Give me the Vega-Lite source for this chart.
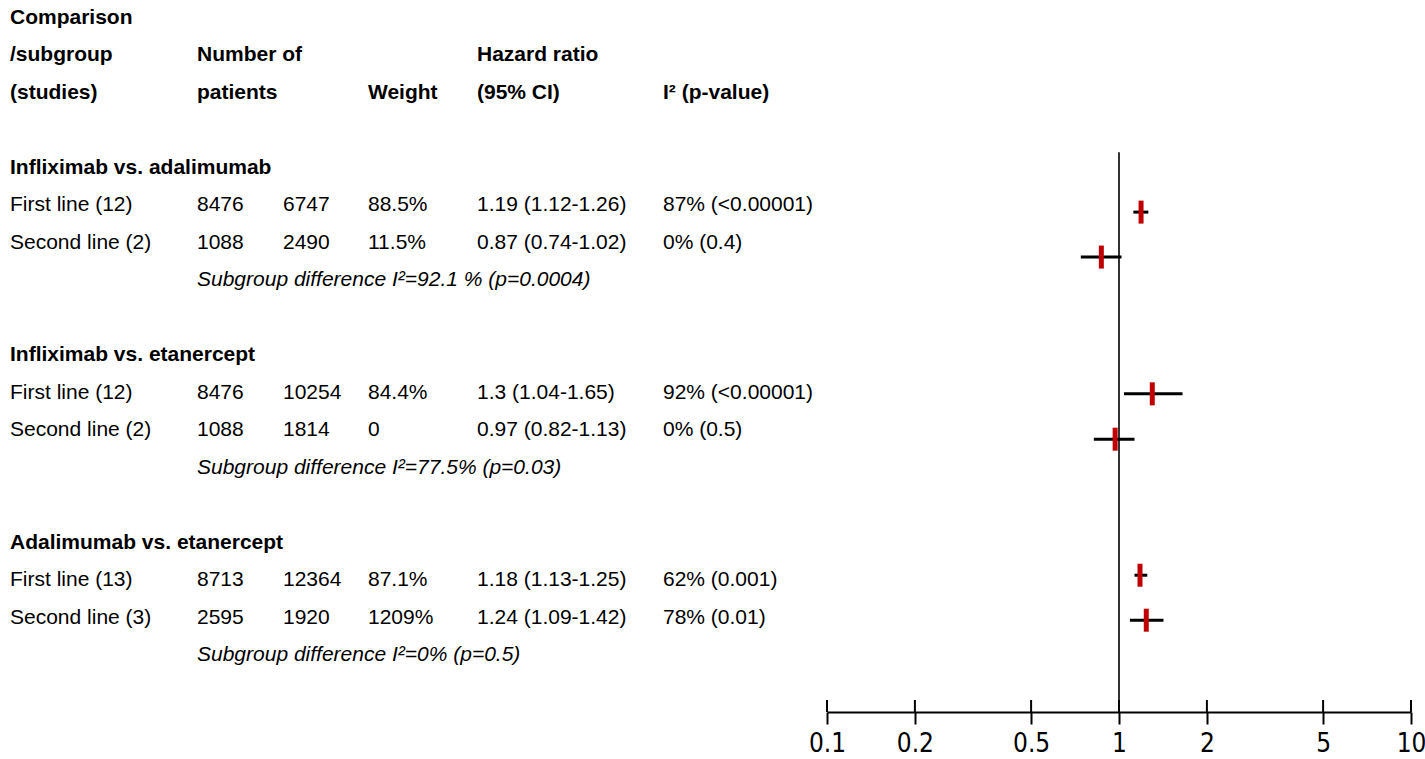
{
  "$schema": "https://vega.github.io/schema/vega-lite/v6.json",
  "width": 1425,
  "height": 712,
  "padding": 0,
  "autosize": {"type": "pad"},
  "background": "white",
  "config": {"view": {"stroke": null}},
  "datasets": {
    "cells": [
      {"row": 0, "col": 0, "kind": "head", "text": "Comparison"},
      {"row": 1, "col": 0, "kind": "head", "text": "/subgroup"},
      {"row": 1, "col": 1, "kind": "head", "text": "Number of"},
      {"row": 1, "col": 4, "kind": "head", "text": "Hazard ratio"},
      {"row": 2, "col": 0, "kind": "head", "text": "(studies)"},
      {"row": 2, "col": 1, "kind": "head", "text": "patients"},
      {"row": 2, "col": 3, "kind": "head", "text": "Weight"},
      {"row": 2, "col": 4, "kind": "head", "text": "(95% CI)"},
      {"row": 2, "col": 5, "kind": "head", "text": "I² (p-value)"},
      {"row": 4, "col": 0, "kind": "head", "text": "Infliximab vs. adalimumab"},
      {"row": 5, "col": 0, "kind": "cell", "text": "First line (12)"},
      {"row": 5, "col": 1, "kind": "cell", "text": "8476"},
      {"row": 5, "col": 2, "kind": "cell", "text": "6747"},
      {"row": 5, "col": 3, "kind": "cell", "text": "88.5%"},
      {"row": 5, "col": 4, "kind": "cell", "text": "1.19 (1.12-1.26)"},
      {"row": 5, "col": 5, "kind": "cell", "text": "87% (<0.00001)"},
      {"row": 6, "col": 0, "kind": "cell", "text": "Second line (2)"},
      {"row": 6, "col": 1, "kind": "cell", "text": "1088"},
      {"row": 6, "col": 2, "kind": "cell", "text": "2490"},
      {"row": 6, "col": 3, "kind": "cell", "text": "11.5%"},
      {"row": 6, "col": 4, "kind": "cell", "text": "0.87 (0.74-1.02)"},
      {"row": 6, "col": 5, "kind": "cell", "text": "0% (0.4)"},
      {"row": 7, "col": 1, "kind": "note", "text": "Subgroup difference I²=92.1 % (p=0.0004)"},
      {"row": 9, "col": 0, "kind": "head", "text": "Infliximab vs. etanercept"},
      {"row": 10, "col": 0, "kind": "cell", "text": "First line (12)"},
      {"row": 10, "col": 1, "kind": "cell", "text": "8476"},
      {"row": 10, "col": 2, "kind": "cell", "text": "10254"},
      {"row": 10, "col": 3, "kind": "cell", "text": "84.4%"},
      {"row": 10, "col": 4, "kind": "cell", "text": "1.3 (1.04-1.65)"},
      {"row": 10, "col": 5, "kind": "cell", "text": "92% (<0.00001)"},
      {"row": 11, "col": 0, "kind": "cell", "text": "Second line (2)"},
      {"row": 11, "col": 1, "kind": "cell", "text": "1088"},
      {"row": 11, "col": 2, "kind": "cell", "text": "1814"},
      {"row": 11, "col": 3, "kind": "cell", "text": "0"},
      {"row": 11, "col": 4, "kind": "cell", "text": "0.97 (0.82-1.13)"},
      {"row": 11, "col": 5, "kind": "cell", "text": "0% (0.5)"},
      {"row": 12, "col": 1, "kind": "note", "text": "Subgroup difference I²=77.5% (p=0.03)"},
      {"row": 14, "col": 0, "kind": "head", "text": "Adalimumab vs. etanercept"},
      {"row": 15, "col": 0, "kind": "cell", "text": "First line (13)"},
      {"row": 15, "col": 1, "kind": "cell", "text": "8713"},
      {"row": 15, "col": 2, "kind": "cell", "text": "12364"},
      {"row": 15, "col": 3, "kind": "cell", "text": "87.1%"},
      {"row": 15, "col": 4, "kind": "cell", "text": "1.18 (1.13-1.25)"},
      {"row": 15, "col": 5, "kind": "cell", "text": "62% (0.001)"},
      {"row": 16, "col": 0, "kind": "cell", "text": "Second line (3)"},
      {"row": 16, "col": 1, "kind": "cell", "text": "2595"},
      {"row": 16, "col": 2, "kind": "cell", "text": "1920"},
      {"row": 16, "col": 3, "kind": "cell", "text": "1209%"},
      {"row": 16, "col": 4, "kind": "cell", "text": "1.24 (1.09-1.42)"},
      {"row": 16, "col": 5, "kind": "cell", "text": "78% (0.01)"},
      {"row": 17, "col": 1, "kind": "note", "text": "Subgroup difference I²=0% (p=0.5)"}
    ],
    "forest": [
      {"pos": 5.18, "hr": 1.19, "lo": 1.12, "hi": 1.26},
      {"pos": 6.38, "hr": 0.87, "lo": 0.74, "hi": 1.02},
      {"pos": 10.03, "hr": 1.3, "lo": 1.04, "hi": 1.65},
      {"pos": 11.24, "hr": 0.97, "lo": 0.82, "hi": 1.13},
      {"pos": 14.87, "hr": 1.18, "lo": 1.13, "hi": 1.25},
      {"pos": 16.07, "hr": 1.24, "lo": 1.09, "hi": 1.42}
    ],
    "ticks": [
      {"v": 0.1}, {"v": 0.2}, {"v": 0.5}, {"v": 1}, {"v": 2}, {"v": 5}, {"v": 10}
    ]
  },
  "resolve": {"scale": {"x": "independent"}},
  "layer": [
    {
      "data": {"name": "cells"},
      "encoding": {
        "x": {"field": "col", "type": "quantitative", "axis": null,
              "scale": {"domain": [0, 1, 2, 3, 4, 5], "range": [10, 197, 283, 368, 477, 663], "zero": false, "nice": false}},
        "y": {"field": "row", "type": "quantitative", "axis": null,
              "scale": {"domain": [-0.48, 18.52], "reverse": true, "zero": false, "nice": false}},
        "text": {"field": "text"}
      },
      "layer": [
        {"transform": [{"filter": "datum.kind == 'head'"}],
         "mark": {"type": "text", "align": "left", "baseline": "middle", "font": "Liberation Sans", "fontSize": 21, "fontWeight": "bold", "color": "#000000"}},
        {"transform": [{"filter": "datum.kind == 'cell'"}],
         "mark": {"type": "text", "align": "left", "baseline": "middle", "font": "Liberation Sans", "fontSize": 21, "color": "#000000"}},
        {"transform": [{"filter": "datum.kind == 'note'"}],
         "mark": {"type": "text", "align": "left", "baseline": "middle", "font": "Liberation Sans", "fontSize": 21, "fontStyle": "italic", "color": "#000000"}}
      ]
    },
    {
      "layer": [
        {
          "data": {"name": "ticks"},
          "transform": [{"filter": "datum.v == 1"}],
          "mark": {"type": "rule", "color": "#333333", "strokeWidth": 2},
          "encoding": {
            "x": {"field": "v", "type": "quantitative",
                  "scale": {"type": "log", "domain": [0.1, 10], "range": [827, 1411], "nice": false},
                  "axis": {"values": [0.1, 0.2, 0.5, 1, 2, 5, 10], "labelExpr": "'' + datum.value", "title": null, "grid": false,
                           "domainColor": "#000000", "domainWidth": 2, "tickColor": "#000000", "tickWidth": 2, "tickSize": 12,
                           "labelFont": "DejaVu Sans Condensed, Roboto, sans-serif", "labelFontSize": 26, "labelColor": "#000000", "labelPadding": 6,
                           "labelFlush": false, "labelOverlap": false}},
            "y": {"datum": 3.58, "type": "quantitative"},
            "y2": {"datum": 18.52}
          }
        },
        {
          "data": {"name": "ticks"},
          "mark": {"type": "rule", "color": "#000000", "strokeWidth": 2},
          "encoding": {
            "x": {"field": "v", "type": "quantitative"},
            "y": {"datum": 18.2, "type": "quantitative"},
            "y2": {"datum": 18.52}
          }
        },
        {
          "data": {"name": "forest"},
          "mark": {"type": "rule", "color": "#000000", "strokeWidth": 3},
          "encoding": {
            "x": {"field": "lo", "type": "quantitative"},
            "x2": {"field": "hi"},
            "y": {"field": "pos", "type": "quantitative"}
          }
        },
        {
          "data": {"name": "forest"},
          "mark": {"type": "tick", "orient": "vertical", "size": 23, "thickness": 5, "color": "#c00000", "opacity": 1},
          "encoding": {
            "x": {"field": "hr", "type": "quantitative"},
            "y": {"field": "pos", "type": "quantitative"}
          }
        }
      ]
    }
  ]
}
